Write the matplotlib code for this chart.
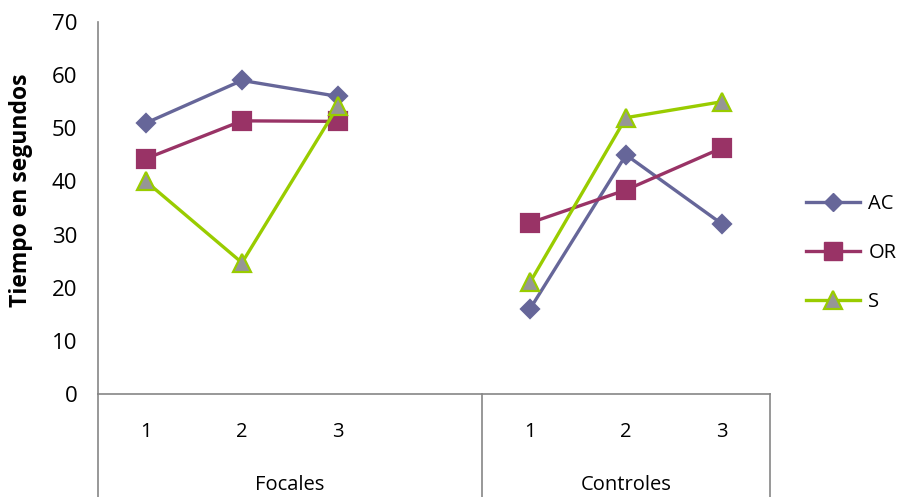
import matplotlib
matplotlib.use("Agg")
import matplotlib.pyplot as plt
from matplotlib.lines import Line2D

plt.rcParams['font.family'] = ['Open Sans', 'DejaVu Sans']

# Data
groups = ["Focales", "Controles"]
sessions = ["1", "2", "3"]
ac = [51, 59, 56, 16, 45, 32]
orr = [44.3, 51.4, 51.3, 32.2, 38.4, 46.3]
s = [40, 24.7, 54.2, 21, 52, 55]
series_names = ["AC", "OR", "S"]
yticks = [0, 10, 20, 30, 40, 50, 60, 70]

W, H = 903, 497
fig = plt.figure(figsize=(W / 100, H / 100), dpi=100)
ax_l, ax_r, ax_t, ax_b = 98, 770, 22, 394
ax = fig.add_axes([ax_l / W, 1 - ax_b / H, (ax_r - ax_l) / W, (ax_b - ax_t) / H])

# category slots: Focales 1-3, empty slot, Controles 1-3
x_pos = [0, 1, 2, 4, 5, 6]
grey = "#868686"

def draw(vals, color, marker, ms, mfc, mec):
    for seg in (slice(0, 3), slice(3, 6)):
        ax.plot(x_pos[seg], vals[seg], color=color, lw=2.4, marker=marker,
                ms=ms, mfc=mfc, mec=mec, mew=1.6, zorder=3, clip_on=False)

draw(ac, "#666699", "D", 9.5, "#666699", "#666699")
draw(orr, "#993366", "s", 12.5, "#993366", "#993366")
draw(s, "#99CC00", "^", 13, "#969696", "#99CC00")

ax.set_xlim(-0.5, 6.5)
ax.set_ylim(0, 70)
ax.set_yticks(yticks)
ax.set_xticks([])
ax.tick_params(axis='y', length=0, labelsize=16, pad=15)
for sp in ["top", "right"]:
    ax.spines[sp].set_visible(False)
ax.spines["left"].set_color(grey)
ax.spines["bottom"].set_color(grey)
ax.spines["left"].set_linewidth(1.2)
ax.spines["bottom"].set_linewidth(1.2)

fig.text(21 / W, 1 - 190 / H, "Tiempo en segundos", rotation=90, ha="center", va="center",
         fontsize=16.5, fontweight="bold")

# category labels and group separators below the axis
trans = ax.get_xaxis_transform()
for xi, lab in zip(x_pos, sessions + sessions):
    ax.text(xi, -0.102, lab, transform=trans, ha="center", va="center", fontsize=14.5)
ax.text(1.5, -0.245, groups[0], transform=trans, ha="center", va="center", fontsize=14.5)
ax.text(5.0, -0.245, groups[1], transform=trans, ha="center", va="center", fontsize=14.5)
for xb in (-0.5, 3.5, 6.5):
    ax.plot([xb, xb], [0, -0.3], transform=trans, color=grey, lw=1.2, clip_on=False)

handles = [
    Line2D([], [], color="#666699", lw=2.4, marker="D", ms=9.5, mfc="#666699", mec="#666699"),
    Line2D([], [], color="#993366", lw=2.4, marker="s", ms=12.5, mfc="#993366", mec="#993366"),
    Line2D([], [], color="#99CC00", lw=2.4, marker="^", ms=13, mfc="#969696", mec="#99CC00", mew=1.6),
]
fig.legend(handles, series_names, loc="center left", bbox_to_anchor=(806 / W, 1 - 253 / H),
           frameon=False, fontsize=14.5, handlelength=2.7, handletextpad=0.4, labelspacing=1.45,
           borderpad=0, borderaxespad=0)

fig.savefig("out.png", dpi=100, facecolor="white")
